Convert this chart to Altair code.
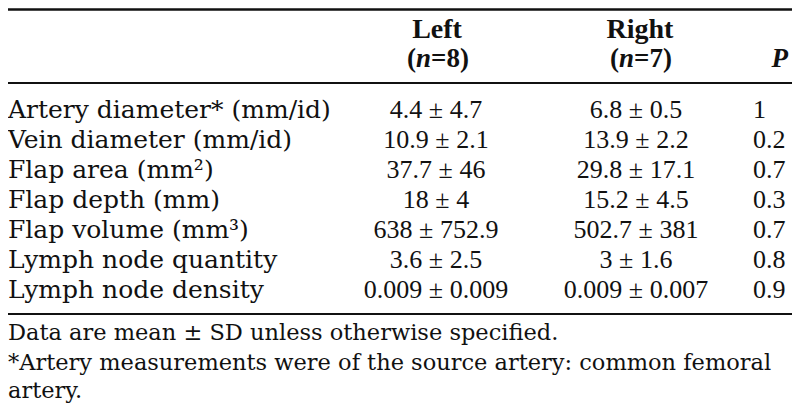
import altair as alt
import pandas as pd

# ---- table content ----
row_labels = [
    "Artery diameter* (mm/id)",
    "Vein diameter (mm/id)",
    "Flap area (mm²)",
    "Flap depth (mm)",
    "Flap volume (mm³)",
    "Lymph node quantity",
    "Lymph node density",
]
left_values = ["4.4 ± 4.7", "10.9 ± 2.1", "37.7 ± 46", "18 ± 4",
               "638 ± 752.9", "3.6 ± 2.5", "0.009 ± 0.009"]
right_values = ["6.8 ± 0.5", "13.9 ± 2.2", "29.8 ± 17.1", "15.2 ± 4.5",
                "502.7 ± 381", "3 ± 1.6", "0.009 ± 0.007"]
p_values = ["1", "0.2", "0.7", "0.3", "0.7", "0.8", "0.9"]

group_titles = ["Left", "Right"]
group_n = ["8", "7"]
p_title = "P"
footnotes = [
    "Data are mean ± SD unless otherwise specified.",
    "*Artery measurements were of the source artery: common femoral",
    "artery.",
]

W, H = 784, 405
LABEL_FONT = "DejaVu Serif"
VALUE_FONT = "Liberation Serif"
HEAD_FONT = "Liberation Serif"
INK = "#111111"

df = pd.DataFrame({
    "label": row_labels,
    "left": left_values,
    "right": right_values,
    "p": p_values,
})

y_enc = alt.Y("label:N", sort=row_labels,
              scale=alt.Scale(type="point", range=[102, 282], padding=0),
              axis=None)

base = alt.Chart(df)

labels_layer = base.mark_text(align="left", baseline="middle", font=LABEL_FONT,
                              fontSize=25, color=INK).encode(
    x=alt.value(0), y=y_enc, text="label:N")
left_layer = base.mark_text(align="center", baseline="middle", font=VALUE_FONT,
                            fontSize=26, color=INK).encode(
    x=alt.value(428), y=y_enc, text="left:N")
right_layer = base.mark_text(align="center", baseline="middle", font=VALUE_FONT,
                             fontSize=26, color=INK).encode(
    x=alt.value(628), y=y_enc, text="right:N")
p_layer = base.mark_text(align="left", baseline="middle", font=VALUE_FONT,
                         fontSize=26, color=INK).encode(
    x=alt.value(745), y=y_enc, text="p:N")

# ---- headers ----
def single_text(t, x, y, align="center", size=27, weight="bold", style="normal",
                font=HEAD_FONT):
    return alt.Chart(pd.DataFrame({"t": [t]})).mark_text(
        align=align, baseline="middle", font=font, fontSize=size,
        fontWeight=weight, fontStyle=style, color=INK).encode(
        x=alt.value(x), y=alt.value(y), text="t:N")

header_layers = []
centers = [429, 632]
for title, n, c in zip(group_titles, group_n, centers):
    header_layers.append(single_text(title, c, 22, size=28))
    header_layers.append(single_text("(", c - 21, 51, align="right"))
    header_layers.append(single_text("n", c - 21, 51, align="left", style="italic"))
    header_layers.append(single_text("=" + n + ")", c - 6, 51, align="left"))
header_layers.append(single_text(p_title, 780, 51, align="right", style="italic"))

# ---- rules ----
def hrule(y, w):
    return alt.Chart(pd.DataFrame({"a": [0]})).mark_rule(
        color=INK, strokeWidth=w).encode(
        x=alt.value(0), x2=alt.value(W), y=alt.value(y))

rules = [hrule(1.5, 2.5), hrule(75, 2.2), hrule(306, 2.2)]

# ---- footnotes ----
foot_y = [325, 355, 383]
foot_layers = [single_text(t, 0, y, align="left", size=22.5, weight="normal",
                           font=LABEL_FONT)
               for t, y in zip(footnotes, foot_y)]

chart = alt.layer(
    *rules, labels_layer, left_layer, right_layer, p_layer,
    *header_layers, *foot_layers
).properties(width=W, height=H, padding=0, autosize="none",
             background="white").configure_view(strokeWidth=0)

chart.save("out.html", embed_options={"renderer": "svg", "actions": False})
